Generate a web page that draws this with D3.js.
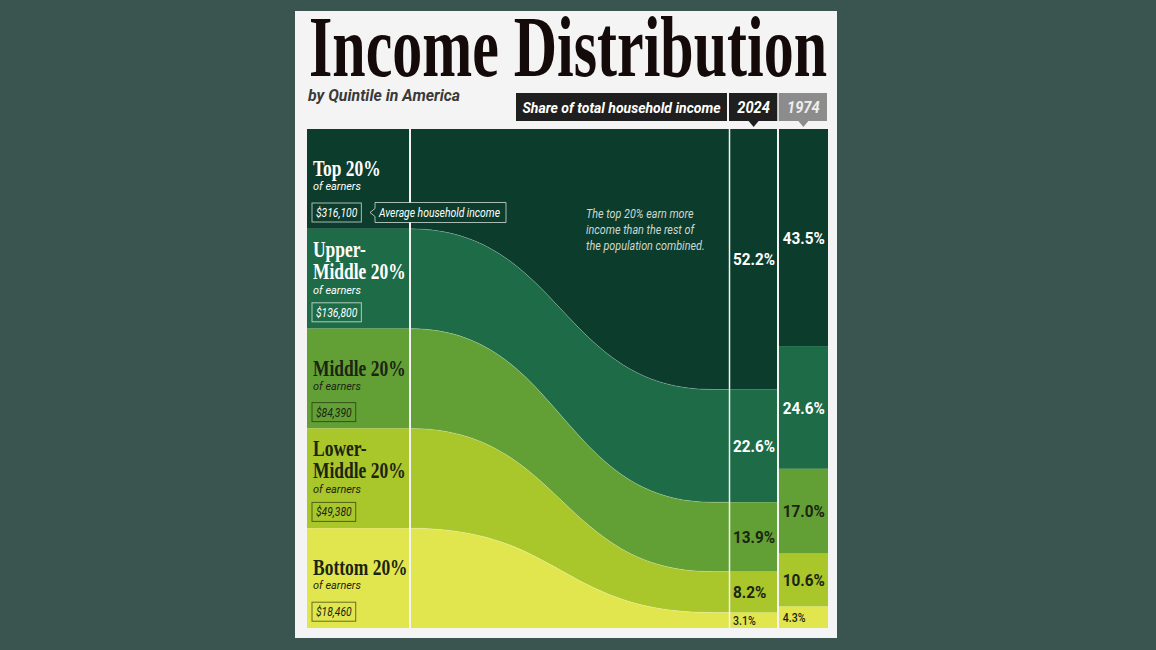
<!DOCTYPE html>
<html lang="en">
<head>
<meta charset="utf-8">
<title>Income Distribution</title>
<script src="https://cdn.jsdelivr.net/npm/d3@7"></script>
<style>
body{
  margin: 0;
  background: #3a5450;
}
svg text.sans{
  font-family: Roboto, "DejaVu Sans", sans-serif;
}
svg text.serif{
  font-family: "Liberation Serif", "DejaVu Serif", serif;
  font-weight: bold;
}
</style>
</head>
<body>
<svg id="chart" width="1156" height="650"></svg>
<script>
  // data
  var quintiles   = ["Top 20%", "Upper-Middle 20%", "Middle 20%", "Lower-Middle 20%", "Bottom 20%"];
  var nameLines   = [["Top 20%"], ["Upper-", "Middle 20%"], ["Middle 20%"], ["Lower-", "Middle 20%"], ["Bottom 20%"]];
  var avgIncome   = ["$316,100", "$136,800", "$84,390", "$49,380", "$18,460"];
  var popShare    = [20, 20, 20, 20, 20];
  var share2024   = [52.2, 22.6, 13.9, 8.2, 3.1];
  var share1974   = [43.5, 24.6, 17.0, 10.6, 4.3];
  var years       = ["2024", "1974"];
  var noteLines   = ["The top 20% earn more", "income than the rest of", "the population combined."];

  var bandColors = ["#0c3c2c", "#1d6b47", "#62a035", "#a9c62b", "#e1e64f"];
  var textColors = ["#ffffff", "#ffffff", "#1c2412", "#1c2412", "#1c2412"];

  var svg = d3.select('svg');

  // squeeze a text to a fraction of its natural width (fake condensed face)
  function squeeze(t, sx) {
    var w = t.node().getComputedTextLength();
    return t.attr('textLength', w * sx).attr('lengthAdjust', 'spacingAndGlyphs');
  }

  // card
  svg.append('rect')
    .attr('x', 295).attr('y', 11)
    .attr('width', 542).attr('height', 627)
    .attr('fill', '#f4f4f4');

  var yScale = d3.scaleLinear().domain([0, 100]).range([129, 628]);
  var xFlow  = d3.scaleLinear().domain([0, 1]).range([410, 712]);
  var xCols  = d3.scaleBand().domain(years).range([729, 828]).paddingInner(0.01);

  function stack(vals) {
    var c = d3.cumsum(vals);
    return vals.map(function(v, i) { return { y0: c[i] - v, y1: c[i], v: v }; });
  }
  var sPop = stack(popShare), s24 = stack(share2024), s74 = stack(share1974);

  // title
  svg.append('text')
    .attr('class', 'serif')
    .attr('x', 309).attr('y', 76)
    .attr('font-size', 86)
    .attr('fill', '#140a0a')
    .attr('textLength', 518)
    .attr('lengthAdjust', 'spacingAndGlyphs')
    .text('Income Distribution');

  svg.append('text')
    .attr('class', 'sans')
    .attr('x', 308).attr('y', 101)
    .attr('font-size', 16)
    .attr('font-weight', 'bold')
    .attr('font-style', 'italic')
    .attr('fill', '#3a3a3a')
    .attr('textLength', 152)
    .attr('lengthAdjust', 'spacingAndGlyphs')
    .text('by Quintile in America');

  // header boxes
  svg.append('rect')
    .attr('x', 516).attr('y', 93).attr('width', 211).attr('height', 28)
    .attr('fill', '#1f1f1f');
  svg.append('text')
    .attr('class', 'sans')
    .attr('x', 621.5).attr('y', 112.5)
    .attr('text-anchor', 'middle')
    .attr('font-size', 15)
    .attr('font-style', 'italic')
    .attr('font-weight', 'bold')
    .attr('fill', '#fff')
    .attr('textLength', 198)
    .attr('lengthAdjust', 'spacingAndGlyphs')
    .text('Share of total household income');

  var head = svg.selectAll('.yearhead')
    .data(years)
    .enter().append('g')
      .attr('class', 'yearhead');
  head.append('rect')
    .attr('x', function(d) { return xCols(d); })
    .attr('y', 93)
    .attr('width', xCols.bandwidth() - 1)
    .attr('height', 28)
    .attr('fill', function(d, i) { return i === 0 ? '#1f1f1f' : '#8c8c8c'; });
  head.append('path')
    .attr('d', function(d) {
      var cx = xCols(d) + xCols.bandwidth() / 2;
      return 'M' + (cx - 5) + ',121L' + (cx + 5) + ',121L' + cx + ',127Z';
    })
    .attr('fill', function(d, i) { return i === 0 ? '#1f1f1f' : '#8c8c8c'; });
  head.each(function(d, i) {
    var t = d3.select(this).append('text')
      .attr('class', 'sans')
      .attr('x', xCols(d) + xCols.bandwidth() / 2)
      .attr('y', 113)
      .attr('text-anchor', 'middle')
      .attr('font-size', 16)
      .attr('font-style', 'italic')
      .attr('font-weight', 'bold')
      .attr('fill', i === 0 ? '#fff' : '#eeeeee')
      .text(d);
    squeeze(t, 0.92);
  });

  var chart = svg.append('g');

  // left column rects
  chart.selectAll('.leftband')
    .data(sPop)
    .enter().append('rect')
      .attr('x', 307)
      .attr('y', function(d) { return yScale(d.y0); })
      .attr('width', 104)
      .attr('height', function(d) { return yScale(d.y1) - yScale(d.y0); })
      .attr('fill', function(d, i) { return bandColors[i]; });

  // flows from population share to 2024 share
  var area = d3.area()
    .curve(d3.curveBumpX)
    .x(function(d) { return xFlow(d.t); })
    .y0(function(d) { return yScale(d.a); })
    .y1(function(d) { return yScale(d.b); });

  var flows = sPop.map(function(p, i) {
    return [{ t: 0, a: p.y0, b: p.y1 }, { t: 1, a: s24[i].y0, b: s24[i].y1 }];
  });

  chart.selectAll('.flow')
    .data(flows)
    .enter().append('path')
      .attr('class', 'flow')
      .attr('d', area)
      .attr('fill', function(d, i) { return bandColors[i]; });

  var edge = d3.line()
    .curve(d3.curveBumpX)
    .x(function(d) { return xFlow(d.t); })
    .y(function(d) { return yScale(d.a); });

  chart.selectAll('.edge')
    .data(flows.slice(1))
    .enter().append('path')
      .attr('d', edge)
      .attr('fill', 'none')
      .attr('stroke', 'rgba(255,255,255,0.22)')
      .attr('stroke-width', 1);

  // year columns (2024 column reaches back under the end of the flows)
  [s24, s74].forEach(function(s, k) {
    var yr = years[k];
    var x0 = k === 0 ? xFlow(1) : xCols(yr);
    var col = chart.append('g');
    col.selectAll('rect')
      .data(s)
      .enter().append('rect')
        .attr('x', x0)
        .attr('y', function(d) { return yScale(d.y0); })
        .attr('width', xCols(yr) + xCols.bandwidth() - x0)
        .attr('height', function(d) { return yScale(d.y1) - yScale(d.y0); })
        .attr('fill', function(d, i) { return bandColors[i]; });
    if (k === 0) {
      col.selectAll('line')
        .data(s.slice(1))
        .enter().append('line')
          .attr('x1', x0).attr('x2', xCols(yr))
          .attr('y1', function(d) { return yScale(d.y0); })
          .attr('y2', function(d) { return yScale(d.y0); })
          .attr('stroke', 'rgba(255,255,255,0.22)')
          .attr('stroke-width', 1);
    }
    s.forEach(function(d, i) {
      var h = yScale(d.y1) - yScale(d.y0);
      var small = h < 26;
      var t = col.append('text')
        .attr('class', 'sans')
        .attr('x', xCols(yr) + 4)
        .attr('y', (yScale(d.y0) + yScale(d.y1)) / 2)
        .attr('dy', '0.36em')
        .attr('font-size', small ? 12 : 17)
        .attr('font-weight', small ? 500 : 'bold')
        .attr('fill', textColors[i])
        .text(d.v.toFixed(1) + '%');
      squeeze(t, small ? 0.88 : 0.9);
    });
  });

  // white dividers
  chart.append('line')
    .attr('x1', 410).attr('x2', 410).attr('y1', 129).attr('y2', 628)
    .attr('stroke', '#f4f4f4').attr('stroke-width', 2);
  chart.append('line')
    .attr('x1', 729.5).attr('x2', 729.5).attr('y1', 129).attr('y2', 628)
    .attr('stroke', '#f4f4f4').attr('stroke-width', 1.5);
  chart.append('line')
    .attr('x1', 778).attr('x2', 778).attr('y1', 129).attr('y2', 628)
    .attr('stroke', '#f4f4f4').attr('stroke-width', 2);

  // left column labels
  var lab = chart.selectAll('.qlabel')
    .data(sPop)
    .enter().append('g')
      .attr('class', 'qlabel')
      .attr('transform', function(d) { return 'translate(313,' + yScale(d.y0) + ')'; });

  lab.each(function(d, i) {
    var g = d3.select(this);
    var lines = nameLines[i];
    // one text per name, lines as tspans (tight leading like the original)
    var name = g.append('text')
      .attr('class', 'serif')
      .attr('transform', 'translate(0,' + (lines.length === 1 ? 47 : 28) + ') scale(0.76,1)')
      .attr('font-size', 23)
      .attr('fill', textColors[i]);
    lines.forEach(function(txt, j) {
      name.append('tspan')
        .attr('x', 0)
        .attr('y', j * 22)
        .text(txt);
    });
    var e = g.append('text')
      .attr('class', 'sans')
      .attr('x', 0)
      .attr('y', lines.length === 1 ? 61 : 65)
      .attr('font-size', 11.5)
      .attr('font-style', 'italic')
      .attr('fill', textColors[i])
      .text('of earners');
    squeeze(e, 0.95);
    var t = g.append('text')
      .attr('class', 'sans')
      .attr('x', 3)
      .attr('y', 88)
      .attr('font-size', 12)
      .attr('font-style', 'italic')
      .attr('fill', textColors[i])
      .text(avgIncome[i]);
    var w = t.node().getComputedTextLength() * 0.86;
    squeeze(t, 0.86);
    g.insert('rect', 'text:last-child')
      .attr('x', -1).attr('y', 74)
      .attr('width', w + 8).attr('height', 19)
      .attr('fill', 'none')
      .attr('stroke', i < 2 ? 'rgba(255,255,255,0.65)' : 'rgba(20,30,10,0.6)')
      .attr('stroke-width', 1);
  });

  // callout
  var cy = yScale(sPop[0].y0) + 83.5;
  chart.append('path')
    .attr('d', 'M375,' + (cy - 10) + 'L506,' + (cy - 10) + 'L506,' + (cy + 10) + 'L375,' + (cy + 10) +
               'L375,' + (cy + 4) + 'L370,' + cy + 'L375,' + (cy - 4) + 'Z')
    .attr('fill', bandColors[0])
    .attr('stroke', 'rgba(255,255,255,0.65)')
    .attr('stroke-width', 1);
  chart.append('text')
    .attr('class', 'sans')
    .attr('x', 379).attr('y', cy + 4)
    .attr('font-size', 12)
    .attr('font-style', 'italic')
    .attr('fill', '#ffffff')
    .attr('textLength', 121)
    .attr('lengthAdjust', 'spacingAndGlyphs')
    .text('Average household income');

  // note
  noteLines.forEach(function(txt, i) {
    var t = chart.append('text')
      .attr('class', 'sans')
      .attr('x', 586)
      .attr('y', 218 + i * 16)
      .attr('font-size', 12)
      .attr('font-style', 'italic')
      .attr('fill', '#cdd8d2')
      .text(txt);
    squeeze(t, 0.9);
  });
</script>
</body>
</html>
